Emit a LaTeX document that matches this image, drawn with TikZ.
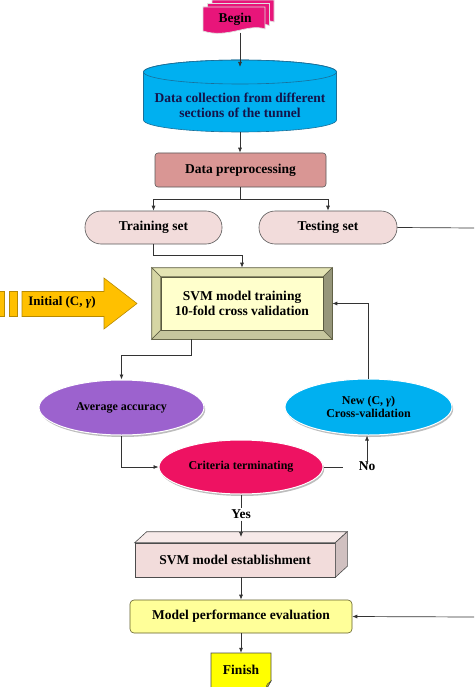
\documentclass[tikz,border=0pt]{standalone}
\usepackage{fontspec}
\setmainfont{Liberation Serif}
\usetikzlibrary{arrows.meta,calc,shapes.geometric,shadows}
\definecolor{beginc}{HTML}{E8157A}
\definecolor{critc}{HTML}{EE1262}
\definecolor{cyanc}{HTML}{00B0F0}
\definecolor{cyanline}{HTML}{1A6F99}
\definecolor{rosec}{HTML}{D99694}
\definecolor{pinkl}{HTML}{F2DCDB}
\definecolor{svmy}{HTML}{FFFFCC}
\definecolor{bevtop}{HTML}{E4E4B4}
\definecolor{bevleft}{HTML}{D6D6A4}
\definecolor{bevright}{HTML}{96967A}
\definecolor{bevbot}{HTML}{C6C69E}
\definecolor{bevline}{HTML}{5A5A40}
\definecolor{purpc}{HTML}{9C62CE}
\definecolor{perfy}{HTML}{FFFF99}
\definecolor{finy}{HTML}{FFFF00}
\definecolor{orangec}{HTML}{FFC000}
\definecolor{orangel}{HTML}{B88A00}
\definecolor{linec}{HTML}{333333}
\definecolor{navy}{HTML}{14144A}
\definecolor{shadowc}{HTML}{BDBDBD}
\begin{document}
\begin{tikzpicture}[x=1pt,y=1pt,
  lab/.style={font=\bfseries\fontsize{13.5}{15.5}\selectfont, align=center, text=black, inner sep=0pt},
  small/.style={font=\bfseries\fontsize{12}{13.5}\selectfont, align=center, text=black, inner sep=0pt},
  arr/.style={draw=linec, line width=0.7pt, -{Latex[length=5pt,width=4pt]}},
  ln/.style={draw=linec, line width=0.7pt},
  prepbox/.style={lab, rectangle, rounded corners=3pt, draw=gray!70!black, line width=0.6pt, fill=rosec, minimum width=171pt, minimum height=34pt},
  pill/.style={lab, rectangle, rounded corners=16pt, draw=gray!70!black, line width=0.6pt, fill=pinkl, minimum height=33pt},
  oval/.style={small, ellipse, draw=white, line width=1pt, drop shadow={shadow xshift=1.2pt, shadow yshift=-2pt, fill=shadowc, opacity=1}},
  face/.style={draw=gray!60!black, line width=0.6pt},
]
\useasboundingbox (0,0) rectangle (474,-687);
\fill[white] (0,0) rectangle (474,-687);
\clip (0,0) rectangle (474,-687);

% Begin (stacked documents)
\foreach \dx/\dy in {9/7,4.5/3.5,0/0}{
  \begin{scope}[shift={(\dx,\dy)}]
    \filldraw[fill=beginc, draw=white!75!gray, line width=0.7pt]
      (203,-7) -- (265,-7) -- (265,-29) .. controls (248,-23) and (228,-39) .. (203,-31) -- cycle;
  \end{scope}
}
\node[lab, minimum height=26pt] (begin) at (235,-19.5) {Begin};

% Data collection cylinder
\filldraw[fill=cyanc, draw=cyanline, line width=0.6pt]
  (143.5,-72) -- (143.5,-120) arc[start angle=180,end angle=360,x radius=96.5,y radius=12]
  -- (336.5,-72) arc[start angle=0,end angle=180,x radius=96.5,y radius=12] -- cycle;
\draw[cyanline, line width=0.6pt] (240,-72) ellipse[x radius=96.5,y radius=12];
\node[lab, text=navy] (data) at (240,-105.5) {Data collection from different\\sections of the tunnel};
\coordinate (dtop) at (240,-67);
\coordinate (dbot) at (240,-132);

% Data preprocessing
\node[prepbox] (prep) at (240.5,-170) {Data preprocessing};

% Training / Testing sets
\node[pill, minimum width=137pt] (train) at (153.5,-227.5) {Training set};
\node[pill, minimum width=138pt] (test) at (328,-227.5) {Testing set};
\coordinate (split) at (240.5,-199);
\coordinate (rt1) at (474,-228);

% SVM model training (bevel box)
\node[lab, rectangle, fill=svmy, draw=bevline, line width=0.6pt, minimum width=180pt, minimum height=71pt] (svm) at (242,-303.5) {};
\coordinate (iNW) at ($(svm.north west)+(9,-9)$);
\coordinate (iNE) at ($(svm.north east)+(-9,-9)$);
\coordinate (iSW) at ($(svm.south west)+(9,9)$);
\coordinate (iSE) at ($(svm.south east)+(-9,9)$);
\filldraw[fill=bevtop, draw=bevline, line width=0.6pt] (svm.north west) -- (svm.north east) -- (iNE) -- (iNW) -- cycle;
\filldraw[fill=bevleft, draw=bevline, line width=0.6pt] (svm.north west) -- (iNW) -- (iSW) -- (svm.south west) -- cycle;
\filldraw[fill=bevright, draw=bevline, line width=0.6pt] (svm.north east) -- (svm.south east) -- (iSE) -- (iNE) -- cycle;
\filldraw[fill=bevbot, draw=bevline, line width=0.6pt] (svm.south west) -- (iSW) -- (iSE) -- (svm.south east) -- cycle;
\draw[bevline, line width=0.4pt] (iNW) rectangle (iSE);
\node[lab] (svmtxt) at (svm.center) {SVM model training\\10-fold cross validation};

% Initial (C, gamma) arrow
\filldraw[fill=orangec, draw=orangel, line width=0.6pt]
  (22,-291.5) -- (104,-291.5) -- (104,-278) -- (137,-303.5) -- (104,-329) -- (104,-316.5) -- (22,-316.5) -- cycle;
\filldraw[fill=orangec, draw=orangel, line width=0.6pt] (9,-291.5) rectangle (17,-316.5);
\filldraw[fill=orangec, draw=orangel, line width=0.6pt] (-2,-291.5) rectangle (4,-316.5);
\node[lab, font=\bfseries\fontsize{13}{15}\selectfont] (init) at (62,-302.5) {Initial (C, {\itshape γ})};

% Ellipses
\node[oval, fill=purpc, minimum width=165pt, minimum height=55pt] (avg) at (121.5,-407.5) {Average accuracy};
\node[oval, fill=cyanc, minimum width=167pt, minimum height=56pt] (newcv) at (368.5,-407) {New (C, {\itshape γ})\\Cross-validation};
\node[oval, fill=critc, minimum width=164pt, minimum height=54pt] (crit) at (241,-467) {Criteria terminating};
\node[lab] (no) at (367,-466.5) {No};
\node[lab] (yes) at (241,-514) {Yes};

% SVM model establishment (3D box)
\node[lab, rectangle, fill=pinkl, face, minimum width=200pt, minimum height=34pt] (estab) at (235,-560) {SVM model establishment};
\filldraw[fill=pinkl!60!white, face] (estab.north west) -- ++(12,11) -- ($(estab.north east)+(12,11)$) -- (estab.north east) -- cycle;
\filldraw[fill=pinkl!70!gray, face] (estab.north east) -- ++(12,11) -- ($(estab.south east)+(12,11)$) -- (estab.south east) -- cycle;
\coordinate (etop) at (241,-537);

% Model performance evaluation
\node[lab, rectangle, rounded corners=4pt, fill=perfy, draw=olive!60!black, line width=0.6pt, minimum width=222pt, minimum height=33pt] (perf) at (241,-616.5) {Model performance evaluation};
\coordinate (rt2) at (474,-617);

% Finish
\filldraw[fill=finy, draw=gray!60!black, line width=0.6pt]
  (211,-653) -- (271,-653) -- (271,-681) -- (266,-690) -- (211,-690) -- cycle;
\filldraw[fill=finy!70!olive, draw=gray!60!black, line width=0.5pt] (271,-681) .. controls (268,-683) and (266,-684) .. (266,-690) -- (268,-686) -- cycle;
\node[lab, minimum width=60pt, minimum height=34pt] (finish) at (241,-670) {Finish};

% Connectors
\draw[arr] (begin.south -| dtop) -- (dtop);
\draw[arr] (dbot) -- (dbot |- prep.north);
\draw[ln] (prep.south) -- (split);
\draw[arr] (split) -| (train.north);
\draw[arr] (split) -| (test.north);
\draw[ln] (test.east) -- (rt1);
\draw[arr] (train.south) -- ++(0,-11.5) -| (svm.north);
\draw[arr] ($(svm.south)+(-51,0)$) -- ++(0,-16) -| (avg.north);
\draw[arr] (newcv.north) |- (svm.east);
\draw[arr] (avg.south) |- (crit.west);
\draw[ln] (crit.east) -- ++(19,0);
\draw[arr] ($(no.north)+(0,-2)$) -- (no.north |- newcv.south);
\draw[ln] (crit.south) -- ($(yes.north)+(0,1)$);
\draw[arr] ($(yes.south)+(0,-2)$) -- (etop);
\draw[arr] (perf.north |- estab.south) -- (perf.north);
\draw[arr] (rt2) -- (perf.east);
\draw[arr] (perf.south) -- (finish.north);
\end{tikzpicture}
\end{document}
